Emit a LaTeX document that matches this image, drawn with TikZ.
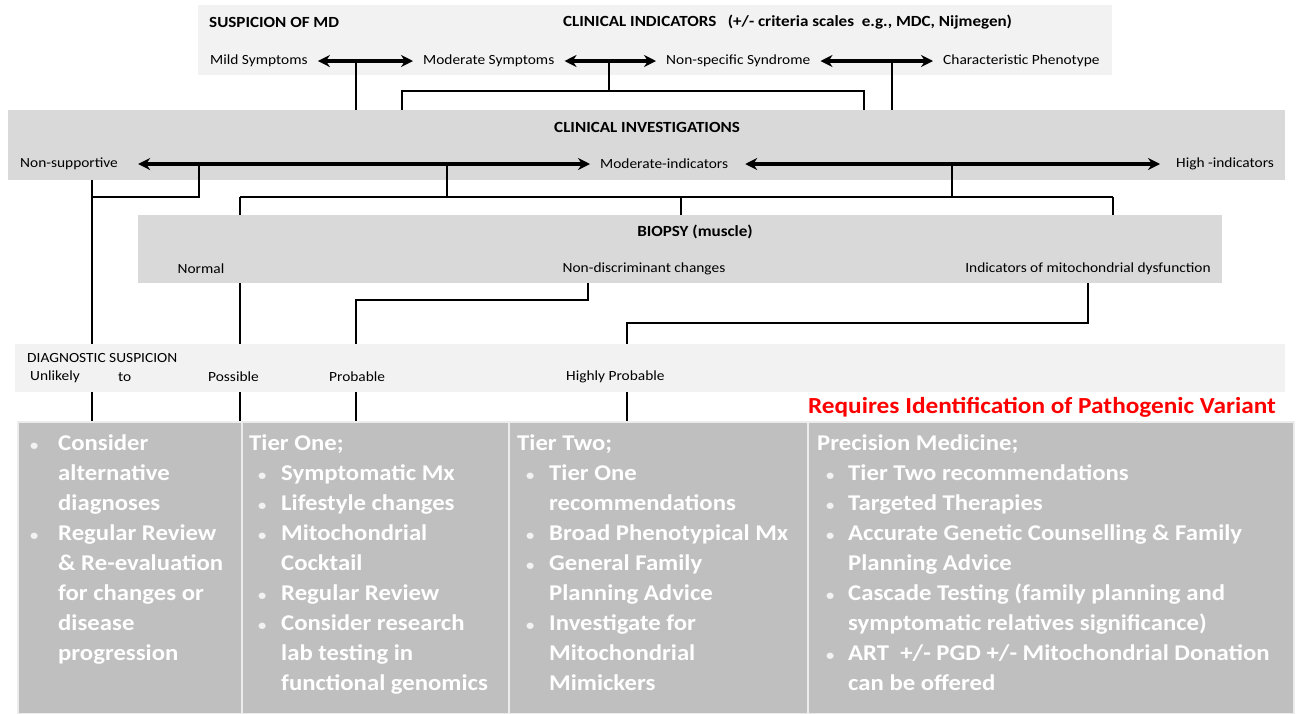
\documentclass[tikz,border=0pt]{standalone}
\usepackage{fontspec}
\setmainfont{Carlito}[FakeStretch=1.1]
\usetikzlibrary{arrows.meta}

\definecolor{panelA}{HTML}{F2F2F2}
\definecolor{panelB}{HTML}{D9D9D9}
\definecolor{tierbg}{HTML}{BFBFBF}
\definecolor{reqred}{HTML}{FF0000}

\newcommand{\bul}{\textcolor{white!80!tierbg}{\fontsize{15}{30}\selectfont\textbullet}}
\newcommand{\tb}{\hspace*{9pt}\bul}

\tikzset{
	panel/.style={anchor=north west, inner sep=0pt, draw=none},
	head/.style={font=\bfseries\fontsize{15.5}{18}\selectfont, inner sep=0pt},
	lbl/.style={font=\fontsize{14}{16}\selectfont, inner sep=2pt},
	dbl/.style={line width=3.8pt, {Stealth[length=12pt,width=12pt]}-{Stealth[length=12pt,width=12pt]}, shorten <=8pt, shorten >=8pt},
	conn/.style={line width=2.5pt},
	tierbox/.style={anchor=north west, fill=tierbg, draw=white!70!tierbg, line width=1.5pt, inner sep=0pt, minimum height=292pt},
	tiertext/.style={anchor=north west, inner sep=0pt, text=white, font=\bfseries\fontsize{22.5}{30}\selectfont}
}

\begin{document}
\begin{tikzpicture}[x=1pt, y=-1pt]
	\useasboundingbox (0,0) rectangle (1297,713);

	\node[panel, fill=panelA, minimum width=914pt, minimum height=70pt] (susp) at (198,5) {};
	\node[panel, fill=panelB, minimum width=1277pt, minimum height=70pt] (ci) at (8,110) {};
	\node[panel, fill=panelB, minimum width=1084pt, minimum height=68pt] (bio) at (138,215) {};
	\node[panel, fill=panelA, minimum width=1270pt, minimum height=48pt] (diag) at (15,344) {};

	\node[tierbox, minimum width=224pt] (t1) at (17,421) {};
	\node[tierbox, minimum width=267pt] (t2) at (241,421) {};
	\node[tierbox, minimum width=299pt] (t3) at (508,421) {};
	\node[tierbox, minimum width=486pt] (t4) at (807,421) {};

	\node[head, anchor=west] (suspT) at (209,22) {SUSPICION OF MD};
	\node[head, anchor=west] (indT) at (563,22) {CLINICAL INDICATORS\ \ \ (+/- criteria scales\ \ e.g., MDC, Nijmegen)};
	\node[head] (ciT) at (647,127) {CLINICAL INVESTIGATIONS};
	\node[head] (bioT) at (695,232) {BIOPSY (muscle)};
	\node[lbl, anchor=west, inner sep=0pt] (diagT) at (27,358) {DIAGNOSTIC SUSPICION};

	\node[lbl, anchor=west] (mild) at (208,61) {Mild Symptoms};
	\node[lbl, anchor=west] (moder) at (421,61) {Moderate Symptoms};
	\node[lbl, anchor=west] (nonspec) at (664,61) {Non-specific Syndrome};
	\node[lbl, anchor=west] (charph) at (941,61) {Characteristic Phenotype};

	\node[lbl, anchor=west] (nonsup) at (18,164) {Non-supportive};
	\node[lbl, anchor=west] (modind) at (598,164) {Moderate-indicators};
	\node[lbl, anchor=west] (highind) at (1174,164) {High -indicators};

	\node[lbl] (normal) at (201,269) {Normal};
	\node[lbl] (nondis) at (644,269) {Non-discriminant changes};
	\node[lbl] (mitodys) at (1088,269) {Indicators of mitochondrial dysfunction};

	\node[lbl, anchor=west] (unlik) at (28,377) {Unlikely};
	\node[lbl, anchor=west] (to) at (116,377) {to};
	\node[lbl, anchor=west] (possib) at (206,377) {Possible};
	\node[lbl, anchor=west] (probab) at (327,377) {Probable};
	\node[lbl, anchor=west] (highpr) at (564,377) {Highly Probable};

	\node[anchor=east, inner sep=0pt, text=reqred, font=\bfseries\fontsize{23}{26}\selectfont] (req) at (1276,407) {Requires Identification of Pathogenic Variant};

	\draw[dbl] (mild) -- (moder);
	\draw[dbl] (moder) -- (nonspec);
	\draw[dbl] (nonspec) -- (charph);
	\draw[dbl, shorten <=18pt] (nonsup) -- (modind);
	\draw[dbl, shorten <=15pt, shorten >=14pt] (modind) -- (highind);

	\coordinate (j1) at (356,61);
	\coordinate (j2) at (609,61);
	\coordinate (j3) at (892,61);
	\coordinate (bL) at (402,91);
	\coordinate (bR) at (864,91);
	\draw[conn] (j1) -- (j1 |- ci.north);
	\draw[conn] (j3) -- (j3 |- ci.north);
	\draw[conn] (j2) -- (j2 |- bL);
	\draw[conn] (bL |- ci.north) -- (bL) -- (bR) -- (bR |- ci.north);

	\coordinate (j4) at (199,164);
	\coordinate (j5) at (447,164);
	\coordinate (j6) at (952,164);
	\coordinate (un) at (92,197);
	\coordinate (busL) at (240,197);
	\coordinate (busM) at (681,197);
	\coordinate (busR) at (1113,197);
	\draw[conn] (j4) |- (un);
	\draw[conn] (un |- ci.south) -- (un |- diag.north);
	\draw[conn] (un |- diag.south) -- (un |- t1.north);
	\draw[conn] (j5) -- (j5 |- busL);
	\draw[conn] (j6) -- (j6 |- busR);
	\draw[conn] (busL) -- (busR);
	\draw[conn] (busL) -- (busL |- bio.north);
	\draw[conn] (busM) -- (busM |- bio.north);
	\draw[conn] (busR) -- (busR |- bio.north);

	\coordinate (nd) at (588,300);
	\coordinate (pr) at (356,300);
	\coordinate (md) at (1088,323);
	\coordinate (hp) at (627,323);
	\draw[conn] (busL |- bio.south) -- (busL |- diag.north);
	\draw[conn] (busL |- diag.south) -- (busL |- t2.north);
	\draw[conn] (nd |- bio.south) -- (nd) -- (pr) -- (pr |- diag.north);
	\draw[conn] (pr |- diag.south) -- (pr |- t2.north);
	\draw[conn] (md |- bio.south) -- (md) -- (hp) -- (hp |- diag.north);
	\draw[conn] (hp |- diag.south) -- (hp |- t3.north);

	\node[tiertext] (t1x) at (30,429) {\begin{tabular}{@{}p{28pt}@{}l@{}}
		\bul & Consider\\ & alternative\\ & diagnoses\\
		\bul & Regular Review\\ & \& Re-evaluation\\ & for changes or\\ & disease\\ & progression
	\end{tabular}};
	\node[tiertext] (t2x) at (249,429) {\begin{tabular}{@{}p{32pt}@{}l@{}}
		\multicolumn{2}{@{}l@{}}{Tier One;}\\
		\tb & Symptomatic Mx\\ \tb & Lifestyle changes\\
		\tb & Mitochondrial\\ & Cocktail\\ \tb & Regular Review\\
		\tb & Consider research\\ & lab testing in\\ & functional genomics
	\end{tabular}};
	\node[tiertext] (t3x) at (517,429) {\begin{tabular}{@{}p{32pt}@{}l@{}}
		\multicolumn{2}{@{}l@{}}{Tier Two;}\\
		\tb & Tier One\\ & recommendations\\ \tb & Broad Phenotypical Mx\\
		\tb & General Family\\ & Planning Advice\\
		\tb & Investigate for\\ & Mitochondrial\\ & Mimickers
	\end{tabular}};
	\node[tiertext] (t4x) at (817,429) {\begin{tabular}{@{}p{31pt}@{}l@{}}
		\multicolumn{2}{@{}l@{}}{Precision Medicine;}\\
		\tb & Tier Two recommendations\\ \tb & Targeted Therapies\\
		\tb & Accurate Genetic Counselling \& Family\\ & Planning Advice\\
		\tb & Cascade Testing (family planning and\\ & symptomatic relatives significance)\\
		\tb & ART\ \ +/- PGD +/- Mitochondrial Donation\\ & can be offered
	\end{tabular}};
\end{tikzpicture}
\end{document}
